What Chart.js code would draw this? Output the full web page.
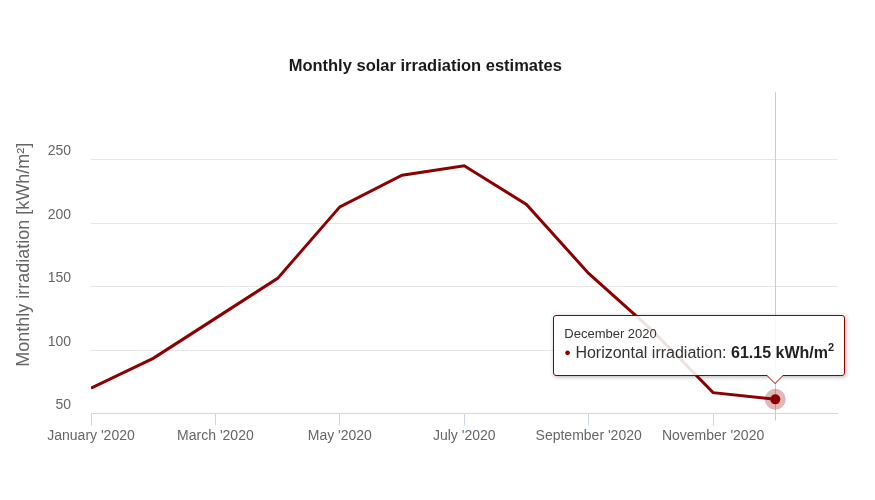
<!DOCTYPE html>
<html>
<head>
<meta charset="utf-8">
<script src="https://cdn.jsdelivr.net/npm/chart.js@4/dist/chart.umd.min.js"></script>
<style>
html,body{margin:0;padding:0;background:#fff;}
#wrap{position:relative;width:875px;height:500px;overflow:hidden;}
#tip{position:absolute;display:none;border:1px solid #8b0000;border-radius:3px;background:rgba(255,255,255,0.88);
  padding:10px 10px 10px 10px;font-family:"Liberation Sans",Arial,sans-serif;color:#333;white-space:nowrap;
  box-shadow:1px 1px 4px rgba(0,0,0,0.3);}
#tip .hd{font-size:13px;line-height:16px;}
#tip .ln{font-size:16px;line-height:22px;}
#tip .dot{color:#8b0000;font-size:11px;position:relative;top:-2px;}
#tip b{color:#222;}
#tip sup{font-size:11px;line-height:0;position:relative;top:-1px;}
#tip .c1{position:absolute;left:212px;bottom:-9px;width:0;height:0;border-left:9px solid transparent;border-right:9px solid transparent;border-top:9px solid #8b0000;}
#tip .c2{position:absolute;left:213px;bottom:-8px;width:0;height:0;border-left:8px solid transparent;border-right:8px solid transparent;border-top:8px solid #fff;}
</style>
</head>
<body>
<div id="wrap">
<canvas id="c" width="875" height="500"></canvas>
<div id="tip"></div>
</div>
<script>
const months = ['January','February','March','April','May','June','July','August','September','October','November','December'];
const year = 2020;
const irradiation = [70, 93.4, 124.9, 156.4, 212.7, 237.6, 245, 214.6, 160.3, 116.5, 66.4, 61.15];
const xTickMonths = [0, 2, 4, 6, 8, 10];
const yTickValues = [50, 100, 150, 200, 250];
const yMin = 50, yMax = 300, xMax = 12;
const chartTitle = 'Monthly solar irradiation estimates';
const yAxisTitle = 'Monthly irradiation [kWh/m²]';
const seriesName = 'Horizontal irradiation';
const unitLabel = 'kWh/m';
const unitPower = '2';
const activeIndex = 11;

const FONT = '"Liberation Sans", Arial, sans-serif';
const LINE = '#8b0000';

const points = irradiation.map((v, i) => ({x: i, y: v}));

const crosshair = {
  id: 'crosshair',
  beforeDatasetsDraw(chart) {
    const act = chart.getActiveElements();
    if (!act.length) return;
    const x = Math.round(act[0].element.x) + 0.5;
    const {top, bottom} = chart.chartArea;
    const ctx = chart.ctx;
    ctx.save();
    ctx.strokeStyle = '#cccccc';
    ctx.lineWidth = 1;
    ctx.beginPath();
    ctx.moveTo(x, top - 4);
    ctx.lineTo(x, bottom + 7);
    ctx.stroke();
    ctx.restore();
  }
};

function externalTooltip(context) {
  const t = context.tooltip;
  const el = document.getElementById('tip');
  if (!t.dataPoints || !t.dataPoints.length) { el.style.display = 'none'; return; }
  const i = t.dataPoints[0].dataIndex;
  el.innerHTML = '<div class="hd">' + months[i] + ' ' + year + '</div>' +
    '<div class="ln"><span class="dot">\u25CF</span> ' + seriesName + ': <b>' +
    irradiation[i].toFixed(2) + ' ' + unitLabel + '<sup>' + unitPower + '</sup></b></div>' +
    '<div class="c1"></div><div class="c2"></div>';
  el.style.display = 'block';
  el.style.left = (t.caretX - 222) + 'px';
  el.style.bottom = (500 - (t.caretY - 23)) + 'px';
}

const chart = new Chart(document.getElementById('c'), {
  type: 'line',
  data: {
    datasets: [{
      label: seriesName,
      data: points,
      borderColor: LINE,
      borderWidth: 3,
      tension: 0,
      fill: false,
      pointRadius: 0,
      pointHoverRadius: 5,
      pointHoverBorderWidth: 11,
      pointHoverBackgroundColor: LINE,
      pointHoverBorderColor: 'rgba(139,0,0,0.28)',
      pointBackgroundColor: LINE,
      pointBorderColor: LINE
    }]
  },
  plugins: [crosshair],
  options: {
    responsive: false,
    animation: false,
    devicePixelRatio: 1,
    events: [],
    layout: {padding: {left: 13, right: 37.5, top: 0, bottom: 0}},
    plugins: {
      legend: {display: false},
      title: {
        display: true,
        text: chartTitle,
        color: '#1a1a1a',
        font: {family: FONT, size: 16.5, weight: 'bold'},
        padding: {top: 56.5, bottom: 19.7}
      },
      tooltip: {
        enabled: false,
        external: externalTooltip,
        mode: 'nearest',
        intersect: false
      }
    },
    scales: {
      x: {
        type: 'linear',
        min: 0,
        max: xMax,
        afterBuildTicks: (s) => { s.ticks = xTickMonths.map(v => ({value: v})); },
        afterFit: (s) => { s.height = 86.5; },
        grid: {drawOnChartArea: false, drawTicks: true, tickLength: 12, color: '#ccd6eb', lineWidth: 1},
        border: {display: true, color: '#ccd6eb', width: 1},
        ticks: {
          color: '#666666',
          font: {family: FONT, size: 14},
          padding: 2,
          maxRotation: 0,
          autoSkip: false,
          callback: (v) => months[v] + " '" + year
        }
      },
      y: {
        type: 'linear',
        min: yMin,
        max: yMax,
        afterBuildTicks: (s) => { s.ticks = yTickValues.map(v => ({value: v})); },
        afterFit: (s) => { s.width = 78; },
        grid: {
          drawTicks: false,
          lineWidth: 1,
          color: (ctx) => (ctx.tick && ctx.tick.value === yMin) ? 'rgba(0,0,0,0)' : '#e6e6e6'
        },
        border: {display: false},
        ticks: {
          color: '#666666',
          font: {family: FONT, size: 14},
          padding: 20,
          labelOffset: -8
        },
        title: {
          display: true,
          text: yAxisTitle,
          color: '#666666',
          font: {family: FONT, size: 18},
          padding: {top: 0, bottom: 0}
        }
      }
    }
  }
});

const activeEl = chart.getDatasetMeta(0).data[activeIndex];
chart.setActiveElements([{datasetIndex: 0, index: activeIndex}]);
chart.tooltip.setActiveElements([{datasetIndex: 0, index: activeIndex}], {x: activeEl.x, y: activeEl.y});
chart.update();
</script>
</body>
</html>
